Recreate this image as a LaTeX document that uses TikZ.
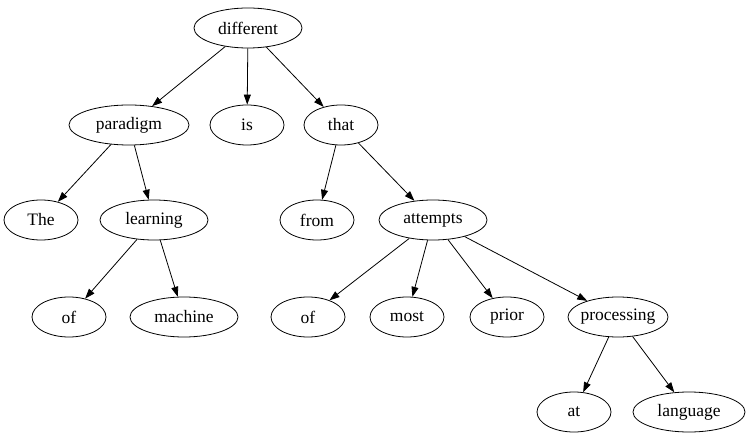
\documentclass[tikz,border=0pt]{standalone}
\usepackage{fontspec}
\setmainfont{Liberation Serif}
\usetikzlibrary{shapes.geometric,arrows.meta}
\begin{document}
\begin{tikzpicture}[x=1pt,y=-1pt,
  nd/.style={draw,ellipse,inner xsep=-8pt,inner ysep=0pt,minimum height=40pt,font=\fontsize{17.5}{20}\selectfont,line width=0.8pt},
  edge/.style={draw,line width=0.8pt,-{Triangle[length=10pt,width=7pt]},shorten >=0pt}]
\useasboundingbox (0,0) rectangle (751,443);
\node[nd,minimum width=108pt] (different) at (248,28) {different};
\node[nd,minimum width=120pt] (paradigm) at (129,125) {paradigm};
\node[nd,minimum width=74pt] (is) at (247,125) {is};
\node[nd,minimum width=74pt] (that) at (341,125) {that};
\node[nd,minimum width=74pt] (The) at (41,220) {The};
\node[nd,minimum width=108pt] (learning) at (154,220) {learning};
\node[nd,minimum width=74pt] (from) at (317,220) {from};
\node[nd,minimum width=108pt] (attempts) at (433,220) {attempts};
\node[nd,minimum width=74pt] (of1) at (69,317) {of};
\node[nd,minimum width=108pt] (machine) at (184,317) {machine};
\node[nd,minimum width=74pt] (of2) at (308,317) {of};
\node[nd,minimum width=74pt] (most) at (407,317) {most};
\node[nd,minimum width=74pt] (prior) at (507,317) {prior};
\node[nd,minimum width=100pt] (processing) at (618,317) {processing};
\node[nd,minimum width=74pt] (at) at (574,412) {at};
\node[nd,minimum width=112pt] (language) at (689,412) {language};
\draw[edge] (different) -- (paradigm);
\draw[edge] (different) -- (is);
\draw[edge] (different) -- (that);
\draw[edge] (paradigm) -- (The);
\draw[edge] (paradigm) -- (learning);
\draw[edge] (learning) -- (of1);
\draw[edge] (learning) -- (machine);
\draw[edge] (that) -- (from);
\draw[edge] (that) -- (attempts);
\draw[edge] (attempts) -- (of2);
\draw[edge] (attempts) -- (most);
\draw[edge] (attempts) -- (prior);
\draw[edge] (attempts) -- (processing);
\draw[edge] (processing) -- (at);
\draw[edge] (processing) -- (language);
\end{tikzpicture}
\end{document}
